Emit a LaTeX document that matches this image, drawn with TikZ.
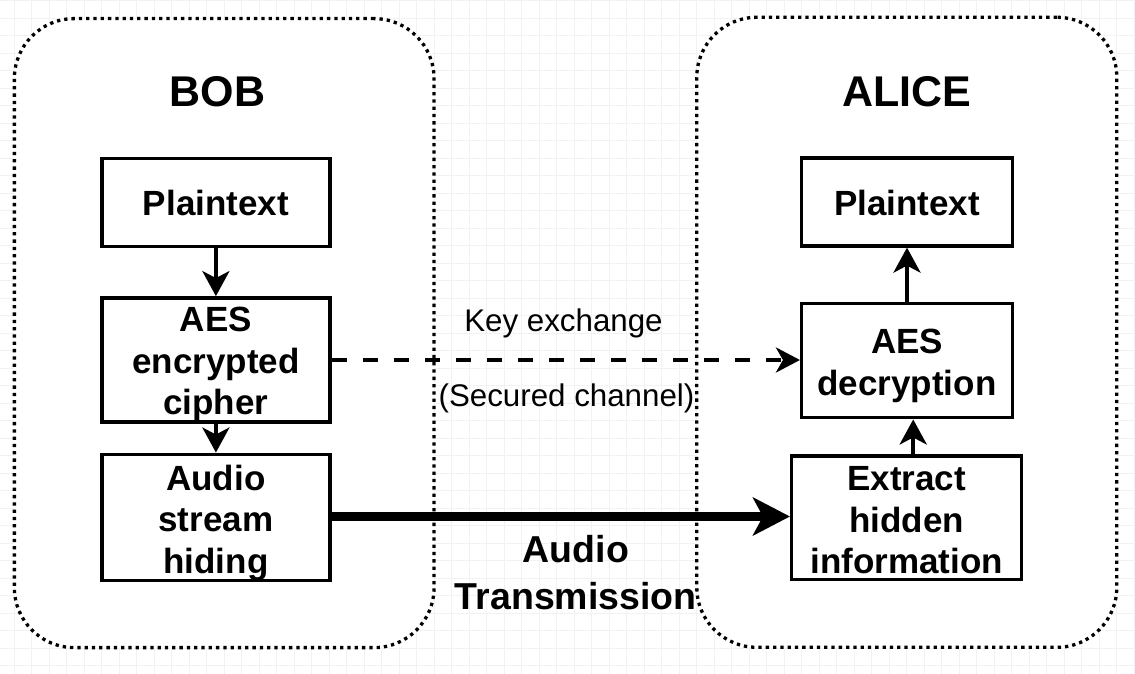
\documentclass[tikz,border=0pt]{standalone}
\usepackage{fontspec}
\setmainfont{Liberation Sans}
\usetikzlibrary{arrows.meta}
\newcommand{\topstrut}[1]{\rule{0pt}{#1}}
\begin{document}
\begin{tikzpicture}[x=1pt,y=-1pt,
  gridline/.style={draw=black!5, line width=1pt},
  grp/.style={draw, fill=white, line width=3.3pt, dash pattern=on 3.3pt off 4pt, rounded corners=60pt, inner sep=0pt},
  box/.style={draw, fill=white, line width=3.5pt, align=center, inner sep=0pt, font=\bfseries\fontsize{35}{41.5}\selectfont},
  ttl/.style={anchor=base, font=\bfseries\fontsize{43}{50}\selectfont},
  lbl/.style={anchor=base, font=\fontsize{31.3}{36}\selectfont},
  thinarrow/.style={line width=4pt, -{Stealth[length=25pt,width=27pt,inset=7pt]}},
  dasharrow/.style={line width=4pt, dash pattern=on 15pt off 16pt, -{Stealth[length=24pt,width=25pt,inset=7pt]}},
  thickarrow/.style={line width=9.5pt, -{Stealth[length=37pt,width=38pt,inset=10pt]}}
]
\useasboundingbox (0,0) rectangle (1135,674);
\fill[white] (0,0) rectangle (1135,674);
% faint editor grid
\foreach \k in {0,...,64} \draw[gridline] ({14.2+17.5*\k},0) -- ({14.2+17.5*\k},674);
\foreach \k in {0,...,38} \draw[gridline] (0,{0.8+17.5*\k}) -- (1135,{0.8+17.5*\k});

% groups
\node[grp, minimum width=419.7pt, minimum height=629pt] (bobgrp) at (224.2,333.1) {};
\node[grp, minimum width=420pt, minimum height=630pt] (alicegrp) at (906.8,332.3) {};

% titles
\node[ttl] (bobt) at (217.5,106.5) {BOB};
\node[ttl] (alicet) at (907,106.5) {ALICE};

% Bob boxes
\node[box, minimum width=228.3pt, minimum height=88.4pt] (bplain) at (215.9,202.5) {\topstrut{27pt}Plaintext};
\node[box, minimum width=228.3pt, minimum height=123.4pt] (benc) at (215.9,360) {\topstrut{34pt}AES\\encrypted\\cipher};
\node[box, minimum width=228.3pt, minimum height=125pt] (bhide) at (215.9,517.5) {\topstrut{36pt}Audio\\stream\\hiding};

% Alice boxes
\node[box, minimum width=210.6pt, minimum height=87.7pt] (aplain) at (907,202) {\topstrut{27pt}Plaintext};
\node[box, minimum width=210.6pt, minimum height=114.4pt] (adec) at (907,360.5) {\topstrut{35pt}AES\\decryption};
\node[box, minimum width=230pt, minimum height=123.3pt] (aext) at (906.7,517.7) {\topstrut{29pt}Extract\\hidden\\information};

% labels
\node[lbl] (keyx) at (563.5,331.5) {Key exchange};
\node[lbl] (secch) at (566.5,406) {(Secured channel)};
\node[align=center, inner sep=0pt, font=\bfseries\fontsize{37.5}{47}\selectfont] (audiot) at (575.8,570) {\topstrut{31.5pt}Audio\\Transmission};

% connectors
\draw[thinarrow] (bplain.south) -- (benc.north);
\draw[thinarrow] (benc.south) -- (bhide.north);
\draw[thinarrow] (adec.north) -- (aplain.south);
\draw[thinarrow] ([xshift=6.5pt]aext.north) -- ([xshift=6.5pt]aext.north |- adec.south);
\draw[dasharrow] (benc.east) -- (adec.west |- benc.east);
\draw[thickarrow] ([yshift=1pt]bhide.east) -- ([yshift=1pt]bhide.east -| aext.west);
\end{tikzpicture}
\end{document}
